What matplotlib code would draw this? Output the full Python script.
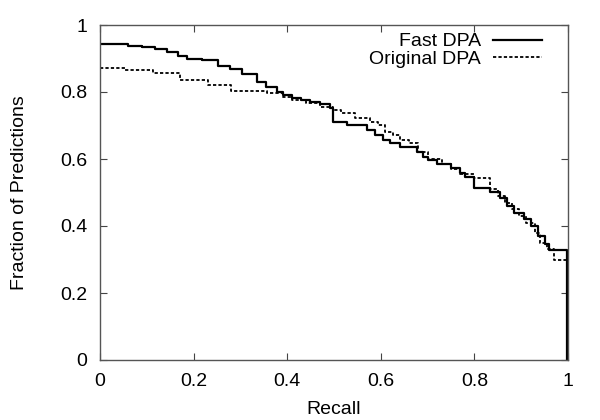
import matplotlib
matplotlib.use("Agg")
import matplotlib.pyplot as plt

plt.rcParams['font.family'] = ['Liberation Sans', 'DejaVu Sans']

fast_recall = [0.0, 0.06, 0.09, 0.118, 0.143, 0.167, 0.186, 0.218, 0.252, 0.278, 0.303,
               0.335, 0.355, 0.378, 0.391, 0.41, 0.43, 0.449, 0.47, 0.491, 0.498,
               0.528, 0.571, 0.588, 0.605, 0.62, 0.641, 0.677, 0.69, 0.70, 0.72,
               0.75, 0.77, 0.78, 0.80, 0.833, 0.855, 0.87, 0.885, 0.905, 0.92,
               0.935, 0.95, 0.96, 0.997, 1.0]
fast_prec = [0.942, 0.938, 0.934, 0.927, 0.92, 0.907, 0.90, 0.895, 0.879, 0.868, 0.853,
             0.831, 0.816, 0.80, 0.791, 0.781, 0.776, 0.771, 0.763, 0.753, 0.711,
             0.701, 0.687, 0.672, 0.657, 0.647, 0.637, 0.62, 0.605, 0.597, 0.585,
             0.573, 0.558, 0.545, 0.513, 0.502, 0.484, 0.46, 0.44, 0.42, 0.40,
             0.37, 0.345, 0.328, 0.0, 0.0]

orig_recall = [0.0, 0.053, 0.113, 0.171, 0.23, 0.28, 0.357, 0.391, 0.41, 0.44, 0.47,
               0.498, 0.515, 0.545, 0.577, 0.594, 0.609, 0.626, 0.641, 0.66, 0.68,
               0.70, 0.73, 0.75, 0.77, 0.80, 0.833, 0.85, 0.865, 0.88, 0.895,
               0.91, 0.93, 0.94, 0.955, 0.97, 0.997, 1.0]
orig_prec = [0.873, 0.866, 0.858, 0.836, 0.821, 0.804, 0.796, 0.786, 0.776, 0.766, 0.756,
             0.746, 0.736, 0.721, 0.711, 0.701, 0.681, 0.672, 0.657, 0.647, 0.62,
             0.60, 0.585, 0.57, 0.555, 0.543, 0.51, 0.49, 0.47, 0.45, 0.43,
             0.41, 0.38, 0.35, 0.33, 0.30, 0.0, 0.0]

tick_vals = [0, 0.2, 0.4, 0.6, 0.8, 1]
tick_labels = ['0', '0.2', '0.4', '0.6', '0.8', '1']

fig = plt.figure(figsize=(6, 4.2), dpi=100)
ax = fig.add_axes([100/600, 60/420, 468/600, 335/420])

ax.plot(fast_recall, fast_prec, drawstyle='steps-post', color='black', lw=1.6,
        label='Fast DPA')
ax.plot(orig_recall, orig_prec, drawstyle='steps-post', color='black', lw=1.3,
        linestyle=(0, (1.8, 1.2)), label='Original DPA')

ax.set_xlim(0, 1)
ax.set_ylim(0, 1)
ax.set_xticks(tick_vals)
ax.set_xticklabels(tick_labels)
ax.set_yticks(tick_vals)
ax.set_yticklabels(tick_labels)
ax.tick_params(direction='in', top=True, right=True, length=5, labelsize=14, pad=9,
               color='#444444')
for s in ax.spines.values():
    s.set_color('#555555')
    s.set_linewidth(1.0)

ax.set_xlabel('Recall', fontsize=14, labelpad=8)
ax.set_ylabel('Fraction of Predictions', fontsize=14, labelpad=23)

leg = ax.legend(loc='upper right', frameon=False, markerfirst=False, fontsize=14,
                handlelength=2.5, handletextpad=0.6, labelspacing=0.0,
                borderaxespad=0.0, bbox_to_anchor=(0.96, 1.0))

fig.savefig('out.png', dpi=100)
